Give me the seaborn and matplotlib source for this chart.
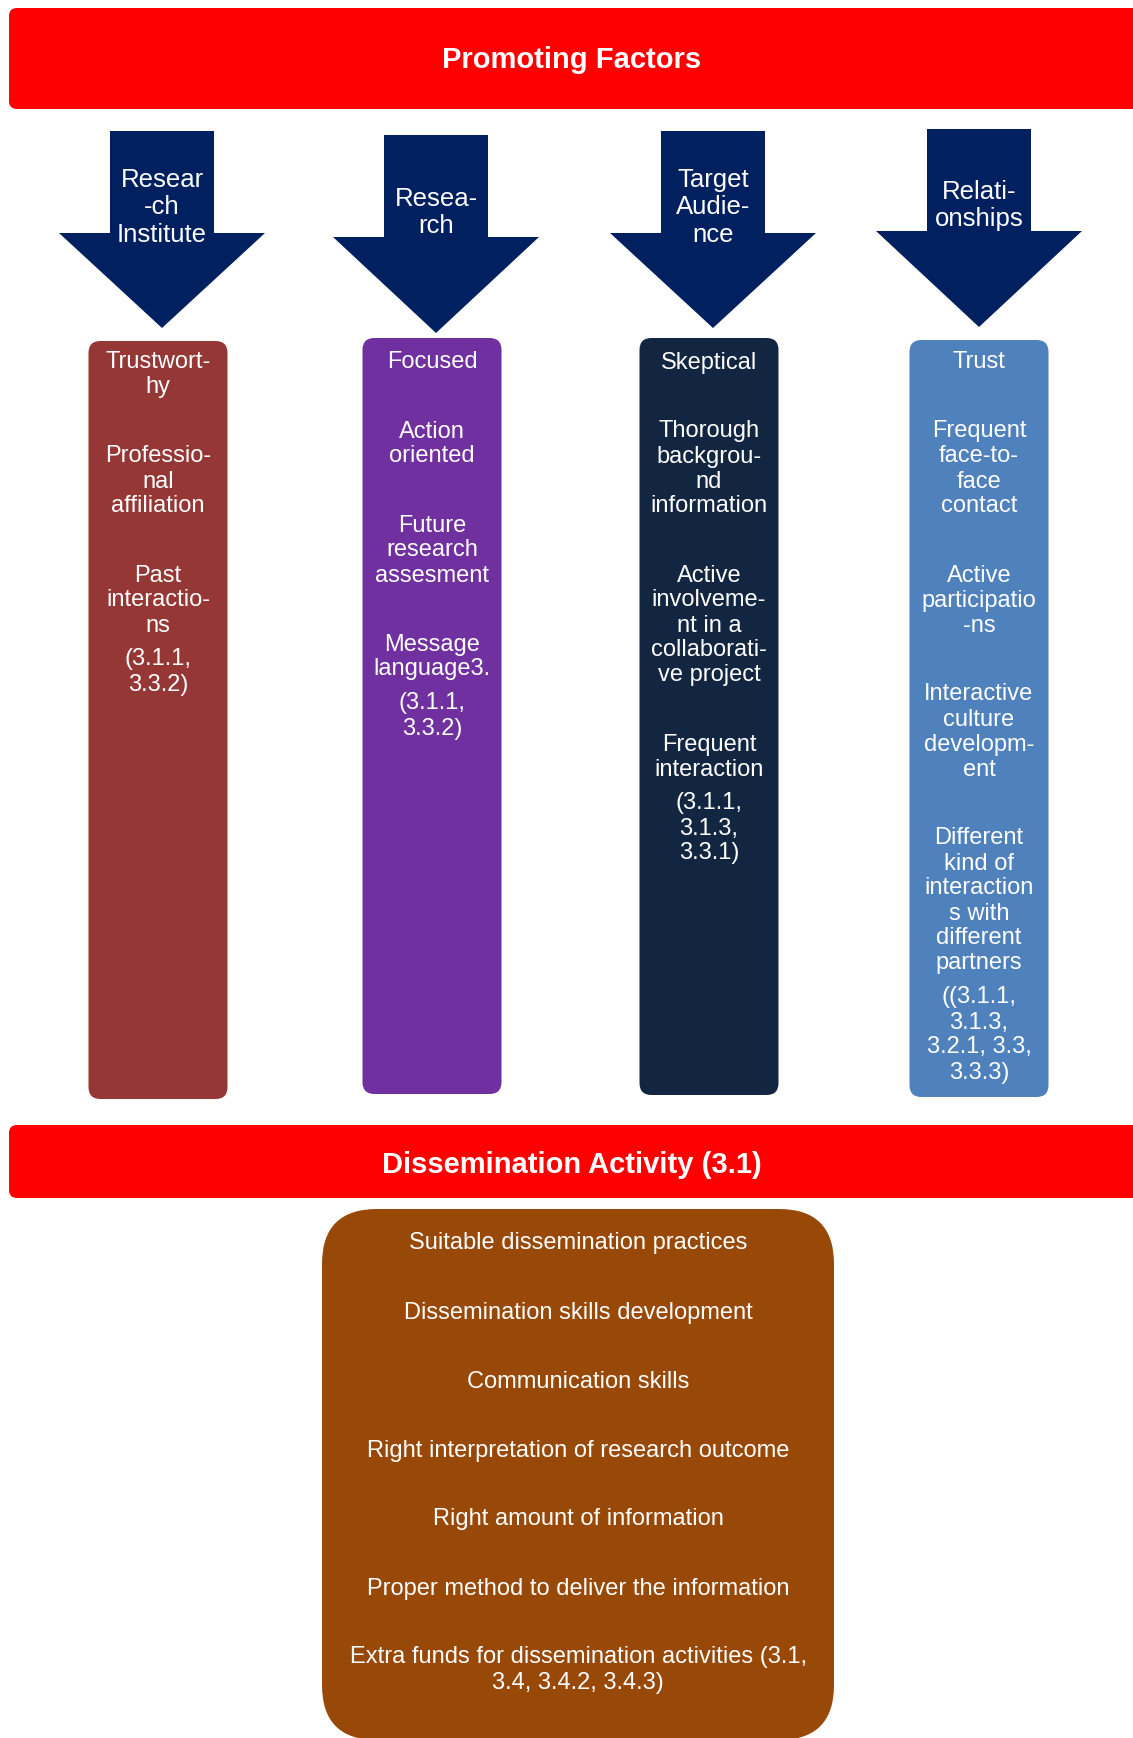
import matplotlib.pyplot as plt
import seaborn as sns
from matplotlib.patches import FancyBboxPatch, Polygon

# --- diagram content ---
header_top = "Promoting Factors"
header_bottom = "Dissemination Activity (3.1)"

factor_labels = ["Resear\n-ch\nInstitute", "Resea-\nrch", "Target\nAudie-\nnce", "Relati-\nonships"]

institute_items = [["Trustwort-", "hy"], ["Professio-", "nal", "affiliation"],
                   ["Past", "interactio-", "ns"]]
research_items = [["Focused"], ["Action", "oriented"], ["Future", "research", "assesment"],
                  ["Message", "language3."]]
audience_items = [["Skeptical"], ["Thorough", "backgrou-", "nd", "information"],
                  ["Active", "involveme-", "nt in a", "collaborati-", "ve project"],
                  ["Frequent", "interaction"]]
relation_items = [["Trust"], ["Frequent", "face-to-", "face", "contact"],
                  ["Active", "participatio", "-ns"],
                  ["Interactive", "culture", "developm-", "ent"],
                  ["Different", "kind of", "interaction", "s with", "different", "partners"]]
column_items = [institute_items, research_items, audience_items, relation_items]

factor_refs = [["(3.1.1,", "3.3.2)"], ["(3.1.1,", "3.3.2)"],
               ["(3.1.1,", "3.1.3,", "3.3.1)"],
               ["((3.1.1,", "3.1.3,", "3.2.1, 3.3,", "3.3.3)"]]

activity_items = [["Suitable dissemination practices"],
                  ["Dissemination skills development"],
                  ["Communication skills"],
                  ["Right interpretation of research outcome"],
                  ["Right amount of information"],
                  ["Proper method to deliver the information"],
                  ["Extra funds for dissemination activities (3.1,", "3.4, 3.4.2, 3.4.3)"]]

# --- style ---
red = "#FF0000"
navy = "#002060"
box_colors = ["#953735", "#7030A0", "#132641", "#4F81BD"]
brown = "#984807"

sns.set_theme(style="white")
plt.rcParams["font.family"] = ["Liberation Sans", "DejaVu Sans"]

W, H = 1133, 1738
fig = plt.figure(figsize=(W / 100, H / 100), dpi=100)
ax = fig.add_axes([0, 0, 1, 1])
ax.set_xlim(0, W)
ax.set_ylim(H, 0)
ax.axis("off")


def rbox(x0, y0, x1, y1, color, r):
    ax.add_patch(FancyBboxPatch((x0, y0), x1 - x0, y1 - y0,
                                boxstyle=f"round,pad=0,rounding_size={r}",
                                fc=color, ec="none"))


def txt(x, y, s, size=17, weight="normal"):
    ax.text(x, y, s, ha="center", va="center_baseline", color="white",
            fontsize=size, fontweight=weight)


# banners
rbox(9, 8, W + 20, 109, red, 8)
txt(572, 57, header_top, size=21, weight="bold")
rbox(9, 1125, W + 20, 1198, red, 8)
txt(572, 1162, header_bottom, size=21, weight="bold")

# arrows
arrow_x = [162, 436, 713, 979]
arrow_top = [131, 135, 131, 129]
arrow_neck = [233, 237, 233, 231]
arrow_tip = [328, 333, 328, 327]
label_y = [205, 210, 205, 203]
for i, lab in enumerate(factor_labels):
    cx = arrow_x[i]
    pts = [(cx - 52, arrow_top[i]), (cx + 52, arrow_top[i]), (cx + 52, arrow_neck[i]),
           (cx + 103, arrow_neck[i]), (cx, arrow_tip[i]), (cx - 103, arrow_neck[i]),
           (cx - 52, arrow_neck[i])]
    ax.add_patch(Polygon(pts, closed=True, fc=navy, ec="none"))
    lines = lab.split("\n")
    y0 = label_y[i] - (len(lines) - 1) * 27.5 / 2
    for k, s in enumerate(lines):
        txt(cx, y0 + k * 27.5, s, size=18.5)

# factor columns
box_x = [158, 432, 709, 979]
box_top = [341, 338, 338, 340]
box_bot = [1099, 1094, 1095, 1097]
step, item_gap, ref_gap = 25, 69, 34
for i, items in enumerate(column_items):
    cx = box_x[i]
    rbox(cx - 69.5, box_top[i], cx + 69.5, box_bot[i], box_colors[i], 12)
    y = 360
    for j, item in enumerate(items):
        if j > 0:
            y += item_gap
        for k, s in enumerate(item):
            if k > 0:
                y += step
            txt(cx, y, s)
    y += ref_gap
    for k, s in enumerate(factor_refs[i]):
        if k > 0:
            y += step
        txt(cx, y, s)

# dissemination activity box
rbox(322, 1209, 834, 1740, brown, 55)
y = 1241
for j, item in enumerate(activity_items):
    for k, s in enumerate(item):
        txt(578, y + k * 25.5, s)
    y += 69

fig.savefig("out.png", dpi=100)
